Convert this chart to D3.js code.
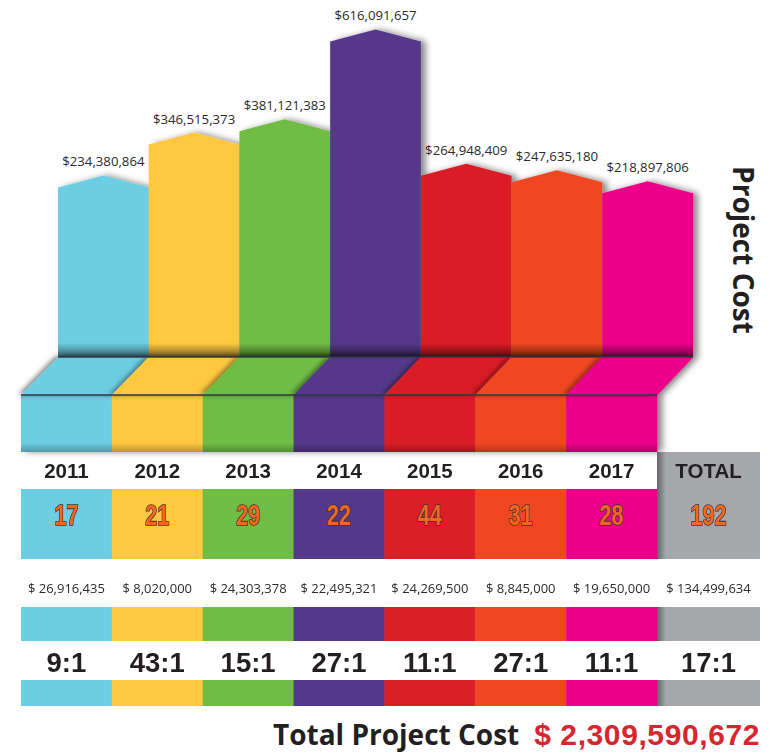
<!DOCTYPE html>
<html>
<head>
<meta charset="utf-8">
<script src="https://cdn.jsdelivr.net/npm/d3@7"></script>
<style>
  body { margin: 0; background: #fff; }
</style>
</head>
<body>
<script>
const years = ['2011', '2012', '2013', '2014', '2015', '2016', '2017']
const projectCost = [234380864, 346515373, 381121383, 616091657, 264948409, 247635180, 218897806]
const projectCount = [17, 21, 29, 22, 44, 31, 28]
const funding = [26916435, 8020000, 24303378, 22495321, 24269500, 8845000, 19650000]
const ratios = ['9:1', '43:1', '15:1', '27:1', '11:1', '27:1', '11:1']
const totalLabel = 'TOTAL'
const totalRatio = '17:1'
const colors = ['#6dcde2', '#fec840', '#6fbd45', '#54398b', '#da1f26', '#ef4722', '#ec008b']
const totalColor = '#a6a7ab'

const width = 773
const height = 753

const barBase = 357   // bottom of the tall bars
const foldBase = 395  // bottom of the slanted strip
const rowTop = 452    // year label row
const rowNum = 489    // count row
const rowNumEnd = 559
const band1 = [607, 641]
const band2 = [680, 706]
const peak = 12

const money = d3.format('$,')
const moneySp = v => '$ ' + d3.format(',')(v)

const svg = d3.select('body').append('svg')
  .attr('width', width)
  .attr('height', height)

const defs = svg.append('defs')

function shadow(id, dx, dy, sd, op) {
  defs.append('filter').attr('id', id)
    .attr('x', '-20%').attr('y', '-20%').attr('width', '140%').attr('height', '140%')
    .append('feDropShadow')
    .attr('dx', dx).attr('dy', dy).attr('stdDeviation', sd)
    .attr('flood-color', '#000').attr('flood-opacity', op)
}
shadow('shRight', 5, 0, 3, 0.45)
shadow('shLeft', -3, 0, 2.5, 0.45)

function vgrad(id, stops, horiz) {
  const g = defs.append('linearGradient').attr('id', id)
    .attr('x1', 0).attr('y1', 0).attr('x2', horiz ? 1 : 0).attr('y2', horiz ? 0 : 1)
  stops.forEach(s => g.append('stop').attr('offset', s[0]).attr('stop-color', '#000').attr('stop-opacity', s[1]))
}
vgrad('gBottom', [[0, 0], [1, 0.5]])
vgrad('gBottomSoft', [[0, 0], [1, 0.25]])
vgrad('gLeft', [[0, 0.4], [1, 0]], true)

const xTop = d3.scaleBand().domain(years).range([58, 693])
const xBot = d3.scaleBand().domain(years).range([21, 657])
const totalX = 657
const totalW = 103
const y = d3.scaleLinear().domain([0, 620e6]).range([277, 40])

const data = years.map((yr, i) => ({
  year: yr, cost: projectCost[i], count: projectCount[i],
  fund: funding[i], ratio: ratios[i], color: colors[i]
}))

// Tall bars with a pointed roof
const bars = svg.append('g').attr('filter', 'url(#shRight)')
bars.selectAll('path.bar')
  .data(data)
  .enter()
  .append('path')
  .classed('bar', true)
  .attr('fill', d => d.color)
  .attr('d', d => {
    const x0 = xTop(d.year), x1 = x0 + xTop.bandwidth(), top = y(d.cost)
    return `M${x0},${barBase}L${x0},${top}L${(x0 + x1) / 2},${top - peak}L${x1},${top}L${x1},${barBase}Z`
  })

svg.append('rect')
  .attr('x', xTop.range()[0]).attr('width', xTop.range()[1] - xTop.range()[0])
  .attr('y', barBase - 14).attr('height', 14)
  .attr('fill', 'url(#gBottom)')

svg.selectAll('text.cost')
  .data(data)
  .enter()
  .append('text')
  .classed('cost', true)
  .attr('x', d => xTop(d.year) + xTop.bandwidth() / 2)
  .attr('y', d => y(d.cost) - peak - 9)
  .attr('text-anchor', 'middle')
  .attr('font-family', 'Open Sans, sans-serif')
  .attr('font-size', 13.2)
  .attr('fill', '#2b2b2b')
  .text(d => money(d.cost))

// Slanted strip and the lower blocks
const fold = svg.append('g').attr('filter', 'url(#shRight)')
fold.selectAll('rect.block')
  .data(data)
  .enter()
  .append('rect')
  .classed('block', true)
  .attr('x', d => xBot(d.year))
  .attr('width', xBot.bandwidth() + 0.5)
  .attr('y', foldBase)
  .attr('height', rowTop - foldBase)
  .attr('fill', d => d.color)
fold.selectAll('polygon.slant')
  .data(data)
  .enter()
  .append('polygon')
  .classed('slant', true)
  .attr('filter', 'url(#shLeft)')
  .attr('fill', d => d.color)
  .attr('points', d => [
    [xTop(d.year), barBase], [xTop(d.year) + xTop.bandwidth() + 0.5, barBase],
    [xBot(d.year) + xBot.bandwidth() + 0.5, foldBase], [xBot(d.year), foldBase]
  ].join(' '))

svg.append('rect')
  .attr('x', xBot.range()[0]).attr('width', xBot.range()[1] - xBot.range()[0])
  .attr('y', rowTop - 9).attr('height', 9)
  .attr('fill', 'url(#gBottomSoft)')

svg.append('line')
  .attr('x1', xTop.range()[0]).attr('x2', xTop.range()[1])
  .attr('y1', barBase).attr('y2', barBase)
  .attr('stroke', '#2e3a40').attr('stroke-width', 1.5)
svg.append('line')
  .attr('x1', xBot.range()[0]).attr('x2', xBot.range()[1])
  .attr('y1', foldBase).attr('y2', foldBase)
  .attr('stroke', '#2e3a40').attr('stroke-width', 1.5)

// Year row, count row and the two thin colour bands
const rows = [[rowNum, rowNumEnd], band1, band2]
rows.forEach(r => {
  svg.append('g').selectAll('rect')
    .data(data)
    .enter()
    .append('rect')
    .attr('x', d => xBot(d.year))
    .attr('width', xBot.bandwidth() + 0.5)
    .attr('y', r[0])
    .attr('height', r[1] - r[0])
    .attr('fill', d => d.color)
})

const totalRows = [[rowTop, rowNumEnd], band1, band2]
totalRows.forEach(r => {
  svg.append('rect')
    .attr('x', totalX).attr('width', totalW)
    .attr('y', r[0]).attr('height', r[1] - r[0])
    .attr('fill', totalColor)
  svg.append('rect')
    .attr('x', totalX).attr('width', 9)
    .attr('y', r[0]).attr('height', r[1] - r[0])
    .attr('fill', 'url(#gLeft)')
})

const colCenter = d => xBot(d.year) + xBot.bandwidth() / 2
const totalCenter = totalX + totalW / 2

const yearLabels = data.map(d => ({ x: colCenter(d), t: d.year })).concat([{ x: totalCenter, t: totalLabel }])
svg.selectAll('text.year')
  .data(yearLabels)
  .enter()
  .append('text')
  .classed('year', true)
  .attr('x', d => d.x)
  .attr('y', 478)
  .attr('text-anchor', 'middle')
  .attr('font-family', 'Liberation Sans, Arial, sans-serif')
  .attr('font-weight', 'bold')
  .attr('font-size', 20.5)
  .attr('fill', '#231f20')
  .text(d => d.t)

const countLabels = data.map(d => ({ x: colCenter(d), t: d.count })).concat([{ x: totalCenter, t: d3.sum(projectCount) }])
svg.selectAll('text.count')
  .data(countLabels)
  .enter()
  .append('text')
  .classed('count', true)
  .attr('transform', d => `translate(${d.x},525) scale(0.72,1)`)
  .attr('text-anchor', 'middle')
  .attr('font-family', 'Liberation Sans, Arial, sans-serif')
  .attr('font-weight', 'bold')
  .attr('font-size', 30)
  .attr('fill', '#f26522')
  .attr('stroke', '#3a3330')
  .attr('stroke-width', 1.6)
  .attr('paint-order', 'stroke')
  .text(d => d.t)

const fundLabels = data.map(d => ({ x: colCenter(d), t: moneySp(d.fund) })).concat([{ x: totalCenter, t: moneySp(d3.sum(funding)) }])
svg.selectAll('text.fund')
  .data(fundLabels)
  .enter()
  .append('text')
  .classed('fund', true)
  .attr('x', d => d.x)
  .attr('y', 593)
  .attr('text-anchor', 'middle')
  .attr('font-family', 'Open Sans, sans-serif')
  .attr('font-size', 13)
  .attr('fill', '#2b2b2b')
  .text(d => d.t)

const ratioLabels = data.map(d => ({ x: colCenter(d), t: d.ratio })).concat([{ x: totalCenter, t: totalRatio }])
svg.selectAll('text.ratio')
  .data(ratioLabels)
  .enter()
  .append('text')
  .classed('ratio', true)
  .attr('x', d => d.x)
  .attr('y', 672)
  .attr('text-anchor', 'middle')
  .attr('font-family', 'Liberation Sans, Arial, sans-serif')
  .attr('font-weight', 'bold')
  .attr('font-size', 27.5)
  .attr('fill', '#231f20')
  .text(d => d.t)

// Side title and footer
svg.append('text')
  .attr('transform', 'translate(733,250) rotate(90)')
  .attr('text-anchor', 'middle')
  .attr('font-family', 'Open Sans, sans-serif')
  .attr('font-weight', 'bold')
  .attr('font-size', 28)
  .attr('fill', '#231f20')
  .text('Project Cost')

svg.append('text')
  .attr('x', 273)
  .attr('y', 745)
  .attr('font-family', 'Open Sans, sans-serif')
  .attr('font-weight', 'bold')
  .attr('font-size', 28)
  .attr('fill', '#231f20')
  .text('Total Project Cost')

svg.append('text')
  .attr('x', 760)
  .attr('y', 745)
  .attr('text-anchor', 'end')
  .attr('font-family', 'Liberation Sans, Arial, sans-serif')
  .attr('font-weight', 'bold')
  .attr('font-size', 30)
  .attr('letter-spacing', 0.6)
  .attr('fill', '#d7262e')
  .text(moneySp(d3.sum(projectCost)))
</script>
</body>
</html>
